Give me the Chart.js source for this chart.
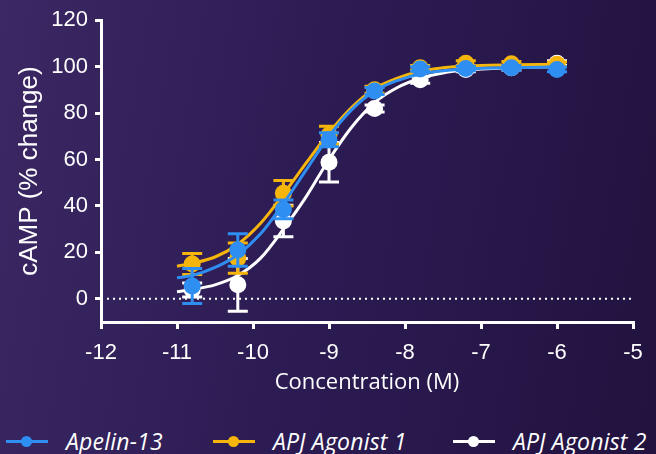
<!DOCTYPE html>
<html>
<head>
<meta charset="utf-8">
<script src="https://cdn.jsdelivr.net/npm/chart.js@4.4.1/dist/chart.umd.min.js"></script>
<style>
  html, body { margin: 0; padding: 0; }
  body {
    width: 656px; height: 454px; overflow: hidden;
    background: linear-gradient(100deg, #3b2864 0%, #2d1c54 45%, #22123f 100%);
  }
  #wrap { position: relative; width: 656px; height: 454px; }
  #chart { position: absolute; left: 0; top: 0; }
  #legend { position: absolute; left: 0; top: 428px; width: 656px; height: 26px; }
  .item { position: absolute; top: 0; height: 26px; display: flex; align-items: center;
          font: italic 23px "Open Sans", sans-serif; letter-spacing: 0.2px; color: #fff; white-space: nowrap; }
  .icon { position: relative; width: 42px; height: 26px; margin-right: 18px; }
  .icon .ln { position: absolute; left: 0; right: 0; top: 12px; height: 3px; }
  .icon .dot { position: absolute; left: 15px; top: 8px; width: 11px; height: 11px; border-radius: 50%; }
</style>
</head>
<body>
<div id="wrap">
  <canvas id="chart" width="656" height="400"></canvas>
  <div id="legend"></div>
</div>
<script>
// log concentrations of the measured points
const doses = [-10.8, -10.2, -9.6, -9.0, -8.4, -7.8, -7.2, -6.6, -6.0];

// mean responses (% change) and error bars
const apelin13 = [5.5, 21, 38.5, 68.5, 89.5, 99, 99.2, 99.5, 98.8];
const apelin13Err = [7.5, 7, 4, 3, 1.5, 1, 1, 1, 1];
const agonist1 = [15, 17.5, 45.5, 70.5, 90, 99.5, 101.5, 101.2, 101];
const agonist1Err = [4.5, 6.5, 5.5, 3.8, 1.5, 1, 1, 1, 1];
const agonist2 = [3.8, 6, 33.5, 58.8, 82, 94.3, 98.8, 99.5, 101.5];
const agonist2Err = [3, 11.4, 6.8, 8.5, 1.5, 1.5, 1, 1, 1];

// fitted curves
const curveX = [-11, -10.8, -10.5, -10.2, -9.9, -9.6, -9.3, -9.0, -8.7, -8.4, -8.1, -7.8, -7.5, -7.2, -6.6, -6.0];
const apelin13Fit = [9, 10, 13.5, 19, 28, 41, 55.5, 70, 81.5, 89.5, 94, 96.8, 98.2, 99, 99.6, 99.8];
const agonist1Fit = [14, 15.3, 18, 23.5, 32.5, 45, 58.5, 71.5, 82.5, 90.5, 95, 98, 99.5, 100.3, 100.8, 101];
const agonist2Fit = [3, 4, 6, 10, 17.5, 30, 44, 60, 74, 84.5, 91, 95, 97.3, 98.5, 99.5, 100];

const xTicks = [-12, -11, -10, -9, -8, -7, -6, -5];
const yTicks = [0, 20, 40, 60, 80, 100, 120];

const BLUE = '#2e8ef2';
const YELLOW = '#f6b50a';
const WHITE = '#ffffff';

const toPoints = (xs, ys) => xs.map((x, i) => ({ x, y: ys[i] }));

const series = [
  { label: 'Apelin-13', color: BLUE, values: apelin13, errors: apelin13Err, fit: apelin13Fit, order: 2 },
  { label: 'APJ Agonist 1', color: YELLOW, values: agonist1, errors: agonist1Err, fit: agonist1Fit, order: 4 },
  { label: 'APJ Agonist 2', color: WHITE, values: agonist2, errors: agonist2Err, fit: agonist2Fit, order: 6 }
];

const datasets = [{
  label: 'zero',
  data: [{ x: xTicks[0], y: 0 }, { x: xTicks[xTicks.length - 1], y: 0 }],
  borderColor: WHITE, borderWidth: 2, borderDash: [2, 4],
  pointRadius: 0, showLine: true, order: 10
}];
series.forEach(s => {
  datasets.push({
    label: s.label + ' fit',
    data: toPoints(curveX, s.fit),
    borderColor: s.color, borderWidth: 3,
    pointRadius: 0, showLine: true, cubicInterpolationMode: 'monotone',
    order: s.order + 1
  });
  datasets.push({
    label: s.label,
    data: toPoints(doses, s.values),
    errors: s.errors,
    backgroundColor: s.color, borderColor: s.color, borderWidth: 0,
    pointRadius: 8.5, pointHoverRadius: 8.5, showLine: false,
    order: s.order
  });
});

// Error bars drawn just before each point series
const errorBars = {
  id: 'errorBars',
  beforeDatasetDraw(chart, args) {
    const ds = chart.data.datasets[args.index];
    if (!ds.errors) return;
    const { ctx, scales: { x, y } } = chart;
    ctx.save();
    ctx.strokeStyle = ds.backgroundColor;
    ctx.lineWidth = 3;
    ds.data.forEach((p, i) => {
      const e = ds.errors[i];
      const px = x.getPixelForValue(p.x);
      const top = y.getPixelForValue(p.y + e);
      const bot = y.getPixelForValue(p.y - e);
      ctx.beginPath();
      ctx.moveTo(px, top); ctx.lineTo(px, bot);
      ctx.moveTo(px - 10, top); ctx.lineTo(px + 10, top);
      ctx.moveTo(px - 10, bot); ctx.lineTo(px + 10, bot);
      ctx.stroke();
    });
    ctx.restore();
  }
};

const axisFont = { family: '"Liberation Sans", Arial, sans-serif', size: 22 };

new Chart(document.getElementById('chart'), {
  type: 'scatter',
  data: { datasets },
  plugins: [errorBars],
  options: {
    responsive: false,
    animation: false,
    events: [],
    layout: { padding: { top: 17, right: 23, left: 0, bottom: 0 } },
    plugins: { legend: { display: false }, tooltip: { enabled: false } },
    scales: {
      x: {
        type: 'linear', min: xTicks[0], max: xTicks[xTicks.length - 1],
        afterBuildTicks: s => { s.ticks = xTicks.map(v => ({ value: v })); },
        afterFit: s => { s.height = 78; },
        border: { display: true, color: WHITE, width: 3 },
        grid: { display: true, drawOnChartArea: false, drawTicks: true, tickLength: 7, color: WHITE, lineWidth: 3 },
        ticks: { color: WHITE, font: axisFont, padding: 11 },
        title: {
          display: true, text: 'Concentration (M)', color: WHITE,
          font: { family: '"Open Sans", sans-serif', size: 22 }, padding: { top: 0, bottom: 4 }
        }
      },
      y: {
        type: 'linear', min: -10, max: 120,
        afterBuildTicks: s => { s.ticks = yTicks.map(v => ({ value: v })); },
        afterFit: s => { s.width = 101; },
        border: { display: true, color: WHITE, width: 3 },
        grid: { display: true, drawOnChartArea: false, drawTicks: true, tickLength: 6, color: WHITE, lineWidth: 3 },
        ticks: { color: WHITE, font: axisFont, padding: 7 },
        title: {
          display: true, text: 'cAMP (% change)', color: WHITE,
          font: { family: '"Liberation Sans", Arial, sans-serif', size: 26 }, padding: { top: 14, bottom: 0 }
        }
      }
    }
  }
});

// HTML legend
const legendLefts = [6, 213, 453];
const legend = document.getElementById('legend');
legend.innerHTML = series.map((s, i) => `
  <div class="item" style="left:${legendLefts[i]}px">
    <span class="icon"><span class="ln" style="background:${s.color}"></span><span class="dot" style="background:${s.color}"></span></span>
    <span>${s.label}</span>
  </div>`).join('');
</script>
</body>
</html>
